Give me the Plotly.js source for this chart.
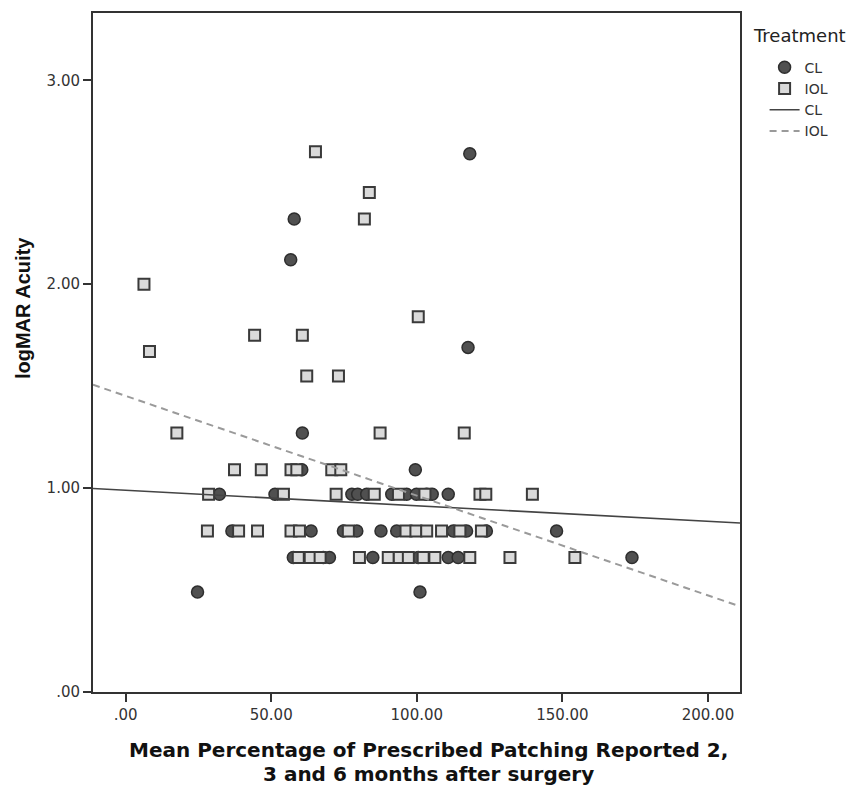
<!DOCTYPE html>
<html>
<head>
<meta charset="utf-8">
<script src="https://cdn.plot.ly/plotly-3.0.1.min.js"></script>
<style>html,body{margin:0;padding:0;background:#fff;}#chart{width:847px;height:787px;}</style>
</head>
<body>
<div id="chart"></div>
<script>
// CL (contact lens) group: patching % and logMAR acuity
const clX = [118.2, 57.9, 56.7, 117.6, 60.7, 60.5, 99.5,
  32.2, 51.3, 77.7, 79.7, 82.8, 91.4, 96.5, 99.9, 103.4, 105.3, 110.8,
  36.5, 63.7, 74.8, 79.4, 87.7, 93.1, 112.5, 117.1, 123.9, 148.0,
  57.6, 67.9, 70.0, 84.9, 100.5, 110.8, 114.2, 173.9,
  24.7, 101.1];
const clY = [2.64, 2.32, 2.12, 1.69, 1.27, 1.09, 1.09,
  0.97, 0.97, 0.97, 0.97, 0.97, 0.97, 0.97, 0.97, 0.97, 0.97, 0.97,
  0.79, 0.79, 0.79, 0.79, 0.79, 0.79, 0.79, 0.79, 0.79, 0.79,
  0.66, 0.66, 0.66, 0.66, 0.66, 0.66, 0.66, 0.66,
  0.49, 0.49];

// IOL (intraocular lens) group
const iolX = [65.2, 83.7, 82.0, 6.3, 100.5, 44.3, 60.7, 8.2, 62.2, 73.1,
  17.6, 87.4, 116.3,
  37.4, 46.6, 56.8, 58.8, 70.8, 73.9,
  28.5, 54.2, 72.3, 85.4, 93.7, 102.8, 121.7, 123.7, 139.7,
  28.1, 38.8, 45.3, 56.8, 59.7, 76.5, 96.3, 99.7, 103.4, 108.5, 114.8, 122.2,
  59.3, 63.4, 66.8, 80.3, 90.2, 94.0, 97.1, 102.2, 106.2, 118.2, 132.0, 154.3];
const iolY = [2.65, 2.45, 2.32, 2.00, 1.84, 1.75, 1.75, 1.67, 1.55, 1.55,
  1.27, 1.27, 1.27,
  1.09, 1.09, 1.09, 1.09, 1.09, 1.09,
  0.97, 0.97, 0.97, 0.97, 0.97, 0.97, 0.97, 0.97, 0.97,
  0.79, 0.79, 0.79, 0.79, 0.79, 0.79, 0.79, 0.79, 0.79, 0.79, 0.79, 0.79,
  0.66, 0.66, 0.66, 0.66, 0.66, 0.66, 0.66, 0.66, 0.66, 0.66, 0.66, 0.66];

// Fit lines (read at the plot's left and right edges)
const fitX = [-11.2, 211];
const clFitY = [0.998, 0.829];
const iolFitY = [1.507, 0.42];

const xTickVals = [0, 50, 100, 150, 200];
const xTickText = ['.00', '50.00', '100.00', '150.00', '200.00'];
const yTickVals = [0, 1, 2, 3];
const yTickText = ['.00', '1.00', '2.00', '3.00'];

const xTitleLines = ['Mean Percentage of Prescribed Patching Reported 2,', '3 and 6 months after surgery'];
const yTitle = 'logMAR Acuity';
const legendTitle = 'Treatment';

const wide = 'DejaVu Sans, Verdana, sans-serif';
const narrow = 'Liberation Sans, Arial, sans-serif';

const traces = [
  {x: clX, y: clY, type: 'scatter', mode: 'markers', name: 'CL',
   marker: {symbol: 'circle', size: 12, color: '#505050', line: {color: '#2e2e2e', width: 1.5}}},
  {x: iolX, y: iolY, type: 'scatter', mode: 'markers', name: 'IOL',
   marker: {symbol: 'square', size: 11, color: '#dadada', line: {color: '#3a3a3a', width: 2}}},
  {x: fitX, y: clFitY, type: 'scatter', mode: 'lines', name: 'CL',
   line: {color: '#444', width: 1.6}},
  {x: fitX, y: iolFitY, type: 'scatter', mode: 'lines', name: 'IOL',
   line: {color: '#9a9a9a', width: 2, dash: '7px,5px'}}
];

const pw = 847 - 92.7 - 106.7, ph = 787 - 13.3 - 94.7;
const px = v => (v - 92.7) / pw;
const py = v => (692.3 - v) / ph;

const layout = {
  width: 847, height: 787,
  margin: {l: 92.7, r: 106.7, t: 13.3, b: 94.7},
  paper_bgcolor: '#fff', plot_bgcolor: '#fff',
  font: {family: wide, size: 15, color: '#333'},
  showlegend: true,
  legend: {x: 1.038, xanchor: 'left', y: py(52), yanchor: 'top',
    font: {family: wide, size: 14, color: '#333'}, bgcolor: 'rgba(0,0,0,0)', tracegroupgap: 0},
  xaxis: {range: [-11.2, 211], tickvals: xTickVals, ticktext: xTickText,
    showgrid: false, zeroline: false, showline: true, mirror: true,
    linecolor: '#333', linewidth: 2, ticks: 'outside', ticklen: 8, tickwidth: 2, tickcolor: '#333',
    tickfont: {family: wide, size: 15, color: '#333'}},
  yaxis: {range: [0, 3.33], tickvals: yTickVals, ticktext: yTickText,
    showgrid: false, zeroline: false, showline: true, mirror: true,
    linecolor: '#333', linewidth: 2, ticks: 'outside', ticklen: 8, tickwidth: 2, tickcolor: '#333',
    tickfont: {family: wide, size: 15, color: '#333'}},
  annotations: [
    {text: legendTitle, xref: 'paper', yref: 'paper', x: px(751), y: py(36),
     xanchor: 'left', yanchor: 'middle', showarrow: false, font: {family: wide, size: 18, color: '#222'}},
    {text: '<b>' + xTitleLines[0] + '</b>', xref: 'paper', yref: 'paper', x: px(429), y: py(750),
     xanchor: 'center', yanchor: 'middle', showarrow: false,
     font: {family: wide, size: 20, color: '#111'}},
    {text: '<b>' + xTitleLines[1] + '</b>', xref: 'paper', yref: 'paper', x: px(429), y: py(774),
     xanchor: 'center', yanchor: 'middle', showarrow: false,
     font: {family: wide, size: 20, color: '#111'}},
    {text: '<b>' + yTitle + '</b>', xref: 'paper', yref: 'paper', x: px(22), y: py(308),
     xanchor: 'center', yanchor: 'middle', textangle: -90, showarrow: false,
     font: {family: narrow, size: 20, color: '#111'}}
  ]
};

Plotly.newPlot('chart', traces, layout, {displayModeBar: false, staticPlot: true});
</script>
</body>
</html>
